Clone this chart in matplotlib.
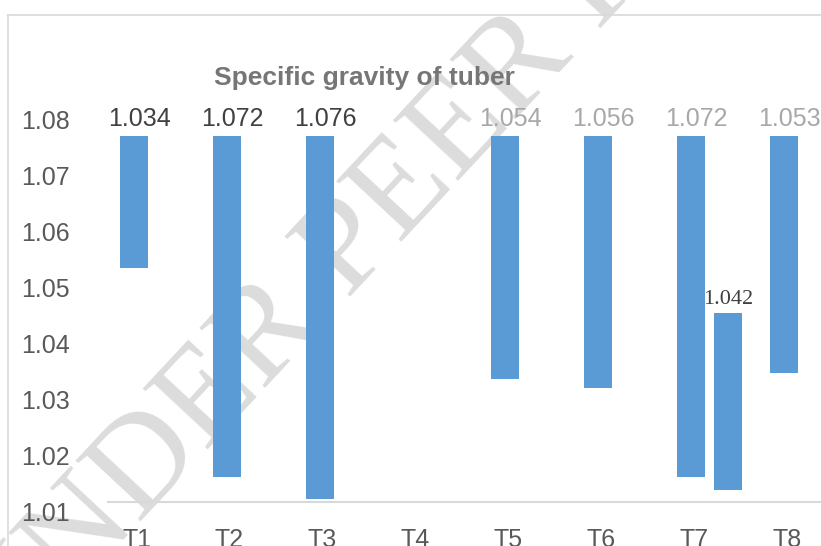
import matplotlib
matplotlib.use("Agg")
import matplotlib.pyplot as plt
import numpy as np

# data (bars hang down from the top of the axis)
categories = ["T1", "T2", "T3", "T4", "T5", "T6", "T7", "T8"]
bar_top = 1.077
bar_end = [1.0534, 1.0162, 1.0123, np.nan, 1.0337, 1.0320, 1.0162, 1.0348]
top_labels = ["1.034", "1.072", "1.076", "", "1.054", "1.056", "1.072", "1.053"]
faded = [False, False, False, False, True, True, True, True]

# second (odd) bar next to T7
extra_pos = 6.4
extra_top = 1.0455
extra_end = 1.0139
extra_label = "1.042"

yticks = [1.01, 1.02, 1.03, 1.04, 1.05, 1.06, 1.07, 1.08]

W, H = 821, 546
fig = plt.figure(figsize=(W / 100, H / 100), dpi=100)
fig.patch.set_facecolor("white")

# watermark behind everything
fig.text(458 / W, 1 - 134 / H, "UNDER PEER REVIEW", rotation=47,
         ha="center", va="center", fontsize=98, family="Liberation Serif",
         color="#dcdcdc", zorder=-1, rotation_mode="anchor")

# chart border (only top/left visible)
fig.add_artist(plt.Line2D([8 / W, 8 / W], [0, 1 - 15 / H], color="#d9d9d9", lw=1.2))
fig.add_artist(plt.Line2D([8 / W, 1], [1 - 15 / H, 1 - 15 / H], color="#d9d9d9", lw=1.2))

ax = fig.add_axes([107 / W, (H - 511.7) / H, (W - 107) / W, 420.7 / H])
ax.patch.set_visible(False)

x = np.arange(len(categories))
heights = np.array(bar_end) - bar_top
ax.bar(x, heights, bottom=bar_top, width=0.30, color="#5B9BD5", zorder=2)
ax.bar([extra_pos], [extra_end - extra_top], bottom=extra_top, width=0.30,
       color="#5B9BD5", zorder=2)

for i, lab in enumerate(top_labels):
    if lab:
        ax.text(x[i] + 0.06, 1.08, lab, ha="center", va="center", fontsize=18,
                family="Liberation Sans",
                color="#a8a8a8" if faded[i] else "#404040", clip_on=False)

ax.text(extra_pos, 1.0478, extra_label, ha="center", va="center", fontsize=16,
        family="Liberation Serif", color="#404040")

ax.set_ylim(1.01, 1.085)
ax.set_xlim(-0.29, 7.40)
ax.axhline(1.0117, color="#d9d9d9", lw=1.5, zorder=1)

ax.set_yticks(yticks)
ax.set_yticklabels(["%.2f" % v for v in yticks], family="Liberation Sans",
                   fontsize=18, color="#595959")
ax.set_xticks(x + 0.03)
ax.set_xticklabels(categories, family="Liberation Sans", fontsize=18, color="#595959")
ax.tick_params(axis="y", length=0, pad=27)
ax.tick_params(axis="x", length=0, pad=12)
for s in ax.spines.values():
    s.set_visible(False)

fig.text(364 / W, 1 - 78 / H, "Specific gravity of tuber", ha="center", va="center",
         fontsize=19, fontweight="bold", family="Liberation Sans", color="#767676")

fig.savefig("out.png", dpi=100)
